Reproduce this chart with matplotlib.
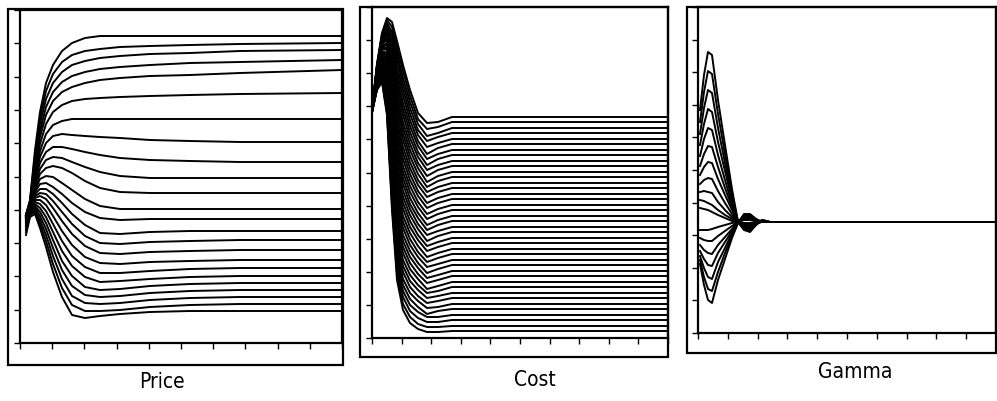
import matplotlib

matplotlib.use("Agg")
import matplotlib.pyplot as plt
import numpy as np
from matplotlib.patches import Rectangle


OUT_NAME = "out.png"
FIG_W, FIG_H = 997, 401

# ---- Price: time grid + one row per curve (height units, axis 0..333) ----
PRICE_TIME = [6, 10, 15, 20, 26, 33, 42, 52, 65, 80, 100, 130, 170, 220, 322]
PRICE_CURVES = [
    [128, 143, 193, 231, 260, 278, 292, 300, 305, 307, 307, 307, 307, 307, 307],
    [128, 142, 188, 225, 252, 269, 281, 288, 292, 294, 296, 297, 298, 299, 300],
    [128, 141, 184, 219, 244, 260, 271, 278, 282, 285, 287, 289, 290, 292, 293],
    [128, 140, 180, 212, 236, 251, 261, 267, 271, 274, 276, 278, 280, 281, 283],
    [128, 140, 176, 206, 228, 242, 251, 256, 260, 263, 265, 267, 268, 270, 273],
    [127, 139, 172, 199, 219, 231, 238, 242, 244, 245, 246, 247, 248, 249, 250],
    [127, 139, 168, 192, 209, 218, 222, 224, 224, 224, 224, 224, 224, 224, 224],
    [127, 138, 165, 186, 200, 207, 209, 208, 207, 206, 205, 203, 202, 201, 201],
    [126, 138, 162, 180, 191, 196, 196, 194, 191, 188, 185, 183, 182, 181, 181],
    [126, 138, 159, 174, 183, 186, 185, 181, 176, 171, 167, 165, 165, 165, 165],
    [126, 137, 156, 169, 175, 177, 175, 170, 162, 155, 151, 150, 150, 150, 150],
    [125, 137, 153, 164, 167, 166, 160, 153, 144, 137, 134, 134, 134, 134, 134],
    [125, 137, 151, 159, 160, 156, 149, 140, 131, 125, 123, 124, 124, 124, 124],
    [124, 136, 149, 154, 154, 149, 140, 129, 118, 110, 109, 111, 112, 112, 112],
    [123, 136, 147, 150, 149, 142, 131, 119, 107, 100, 99, 101, 102, 103, 103],
    [122, 135, 145, 147, 144, 135, 122, 109, 97, 90, 89, 91, 92, 93, 93],
    [121, 134, 143, 143, 138, 127, 112, 98, 86, 80, 79, 81, 82, 83, 83],
    [120, 133, 141, 139, 132, 119, 102, 87, 76, 70, 70, 72, 74, 75, 75],
    [118, 132, 139, 135, 126, 111, 92, 77, 66, 61, 62, 64, 66, 67, 67],
    [117, 131, 137, 131, 120, 103, 82, 67, 56, 53, 54, 57, 59, 60, 60],
    [115, 130, 135, 127, 114, 95, 73, 57, 48, 46, 47, 50, 52, 53, 53],
    [113, 129, 133, 123, 108, 87, 64, 47, 40, 39, 40, 43, 45, 46, 46],
    [111, 128, 131, 119, 102, 79, 55, 38, 32, 32, 33, 36, 38, 39, 39],
    [108, 126, 129, 115, 96, 71, 46, 28, 25, 27, 29, 31, 32, 32, 32],
]

# ---- Cost: time grid + one row per curve (height units, axis 0..331) ----
COST_TIME = [0, 5, 10, 15, 20, 25, 31, 38, 46, 55, 66, 80, 296]
COST_CURVES = [
    [228, 274, 305, 320, 316, 297, 273, 248, 225, 215, 216, 221, 221],
    [228, 273, 304, 318, 311, 291, 267, 242, 219, 209, 211, 216, 216],
    [228, 273, 302, 315, 306, 285, 260, 236, 214, 202, 205, 210, 210],
    [228, 272, 301, 313, 302, 279, 254, 230, 208, 197, 201, 205, 205],
    [228, 271, 300, 310, 297, 272, 248, 224, 203, 191, 195, 199, 199],
    [228, 271, 299, 308, 292, 266, 242, 218, 197, 184, 190, 194, 194],
    [228, 270, 297, 305, 287, 260, 235, 212, 192, 179, 184, 188, 188],
    [228, 269, 296, 303, 282, 254, 229, 206, 186, 173, 179, 183, 183],
    [228, 269, 295, 300, 277, 248, 223, 200, 181, 168, 173, 177, 177],
    [228, 268, 294, 298, 273, 242, 216, 194, 175, 162, 168, 172, 172],
    [228, 267, 292, 295, 268, 236, 210, 188, 170, 156, 162, 166, 166],
    [228, 267, 291, 293, 263, 230, 204, 182, 164, 151, 157, 161, 161],
    [228, 266, 290, 290, 258, 223, 198, 176, 158, 146, 151, 155, 155],
    [227, 265, 289, 288, 253, 217, 191, 170, 153, 141, 146, 150, 150],
    [227, 265, 287, 285, 249, 211, 185, 164, 147, 135, 140, 144, 144],
    [227, 264, 286, 283, 244, 205, 179, 158, 142, 130, 135, 139, 139],
    [227, 263, 285, 280, 239, 199, 172, 152, 136, 124, 129, 133, 133],
    [227, 263, 284, 278, 234, 193, 166, 146, 131, 119, 124, 128, 128],
    [227, 262, 282, 275, 229, 187, 160, 140, 125, 113, 118, 122, 122],
    [227, 261, 281, 273, 224, 181, 154, 134, 120, 108, 113, 117, 117],
    [227, 261, 280, 270, 220, 174, 147, 129, 114, 103, 107, 111, 111],
    [227, 260, 279, 268, 215, 168, 141, 123, 109, 97, 102, 106, 106],
    [227, 259, 277, 265, 210, 162, 135, 117, 103, 92, 96, 100, 100],
    [227, 259, 276, 263, 205, 156, 129, 111, 98, 87, 91, 95, 95],
    [227, 258, 275, 260, 200, 150, 122, 105, 92, 81, 85, 89, 89],
    [227, 257, 274, 258, 196, 144, 116, 99, 86, 76, 80, 84, 84],
    [227, 257, 272, 255, 191, 138, 110, 93, 81, 71, 74, 78, 78],
    [226, 256, 271, 253, 186, 132, 103, 87, 75, 65, 69, 73, 73],
    [226, 255, 270, 250, 181, 125, 97, 81, 70, 60, 63, 67, 67],
    [226, 255, 269, 248, 176, 119, 91, 75, 64, 55, 58, 62, 62],
    [226, 254, 267, 245, 171, 113, 85, 69, 59, 49, 52, 56, 56],
    [226, 253, 266, 243, 167, 107, 78, 63, 53, 45, 47, 51, 51],
    [226, 253, 265, 240, 162, 101, 72, 57, 48, 40, 42, 45, 45],
    [226, 252, 264, 238, 157, 95, 66, 51, 42, 35, 37, 40, 40],
    [226, 251, 262, 235, 152, 89, 59, 45, 37, 30, 31, 34, 34],
    [226, 251, 261, 233, 147, 83, 53, 39, 31, 24, 27, 29, 29],
    [226, 250, 260, 230, 143, 77, 47, 33, 26, 21, 21, 23, 23],
    [226, 249, 259, 228, 138, 70, 41, 27, 20, 16, 16, 18, 18],
    [226, 249, 257, 225, 133, 64, 34, 21, 14, 11, 11, 12, 12],
    [226, 248, 256, 223, 128, 58, 28, 15, 9, 6, 6, 7, 7],
]

# ---- Gamma: time grid + one row per curve (height units, axis 0..326) ----
GAMMA_TIME = [2, 6, 10, 14, 20, 27, 34, 40, 46, 52, 58, 64, 72, 298]
GAMMA_CURVES = [
    [223, 258, 281, 278, 233, 188, 144, 111, 103, 101, 108, 113, 111, 111],
    [211, 241, 262, 259, 219, 179, 140, 111, 104, 102, 108, 113, 111, 111],
    [199, 225, 243, 240, 205, 170, 136, 111, 105, 103, 109, 113, 111, 111],
    [188, 209, 224, 221, 191, 162, 133, 111, 105, 104, 109, 112, 111, 111],
    [177, 194, 205, 203, 178, 153, 129, 111, 106, 105, 109, 112, 111, 111],
    [167, 179, 187, 186, 166, 145, 126, 111, 107, 106, 110, 112, 111, 111],
    [158, 166, 171, 170, 154, 138, 123, 111, 107, 107, 110, 112, 111, 111],
    [149, 153, 155, 154, 142, 130, 119, 111, 108, 108, 110, 111, 111, 111],
    [141, 142, 141, 140, 131, 123, 116, 111, 108, 109, 110, 111, 111, 111],
    [133, 132, 130, 128, 123, 118, 114, 111, 109, 109, 111, 111, 111, 111],
    [125, 124, 123, 121, 118, 115, 112, 111, 110, 110, 111, 111, 111, 111],
    [103, 103, 103, 104, 106, 108, 110, 111, 113, 113, 112, 111, 111, 111],
    [95, 93, 92, 92, 97, 102, 107, 111, 114, 114, 112, 111, 111, 111],
    [88, 83, 80, 79, 88, 96, 104, 111, 115, 115, 113, 111, 111, 111],
    [82, 74, 68, 67, 80, 91, 102, 111, 116, 116, 113, 111, 111, 111],
    [77, 65, 56, 54, 71, 85, 100, 111, 117, 117, 113, 111, 111, 111],
    [73, 56, 44, 42, 61, 80, 97, 110, 118, 118, 114, 111, 111, 111],
    [69, 48, 33, 30, 53, 74, 95, 110, 119, 119, 114, 111, 111, 111],
]

PANEL_LABELS = ["Price", "Cost", "Gamma"]

# layout in pixels: plot box (left, top, right, bottom), outer frame, label centre
PLOT_BOXES = [(20, 10, 342, 343), (372, 7, 668, 338), (698, 7, 996, 333)]
FRAME_BOXES = [(8, 9, 343, 365), (360, 7, 668, 357), (687, 7, 996, 353)]
LABEL_POS = [(162, 382), (535, 380), (855, 372)]

LINE_W = 1.4
LABEL_FONT = ["Liberation Sans Narrow", "DejaVu Sans"]


def px_rect(box):
    left, top, right, bottom = box
    return [left / FIG_W, 1 - bottom / FIG_H, (right - left) / FIG_W, (bottom - top) / FIG_H]


def draw_panel(fig, idx, time, curves):
    box = PLOT_BOXES[idx]
    ax = fig.add_axes(px_rect(box))
    for row in curves:
        ax.plot(time, row, color="black", lw=LINE_W, solid_joinstyle="round")

    xmax = box[2] - box[0]
    ymax = box[3] - box[1]
    ax.set_xlim(0, xmax)
    ax.set_ylim(0, ymax)
    ax.set_xticks(np.linspace(0, xmax, 11))
    ax.set_yticks(np.linspace(0, ymax, 11))
    ax.tick_params(direction="out", length=4, width=1.0, color="black",
                   labelbottom=False, labelleft=False)
    for spine in ax.spines.values():
        spine.set_linewidth(1.6)
        spine.set_color("black")

    rect = px_rect(FRAME_BOXES[idx])
    fig.add_artist(
        Rectangle((rect[0], rect[1]), rect[2], rect[3], transform=fig.transFigure,
                  fill=False, edgecolor="black", linewidth=1.6)
    )
    lx, ly = LABEL_POS[idx]
    fig.text(lx / FIG_W, 1 - ly / FIG_H, PANEL_LABELS[idx], ha="center", va="center",
             fontsize=15, family=LABEL_FONT, stretch="condensed", color="black")
    return ax


def main():
    fig = plt.figure(figsize=(FIG_W / 100, FIG_H / 100), dpi=100)
    fig.patch.set_facecolor("white")

    draw_panel(fig, 0, PRICE_TIME, PRICE_CURVES)
    draw_panel(fig, 1, COST_TIME, COST_CURVES)
    draw_panel(fig, 2, GAMMA_TIME, GAMMA_CURVES)

    fig.savefig(OUT_NAME, dpi=100, facecolor="white")


if __name__ == "__main__":
    main()
